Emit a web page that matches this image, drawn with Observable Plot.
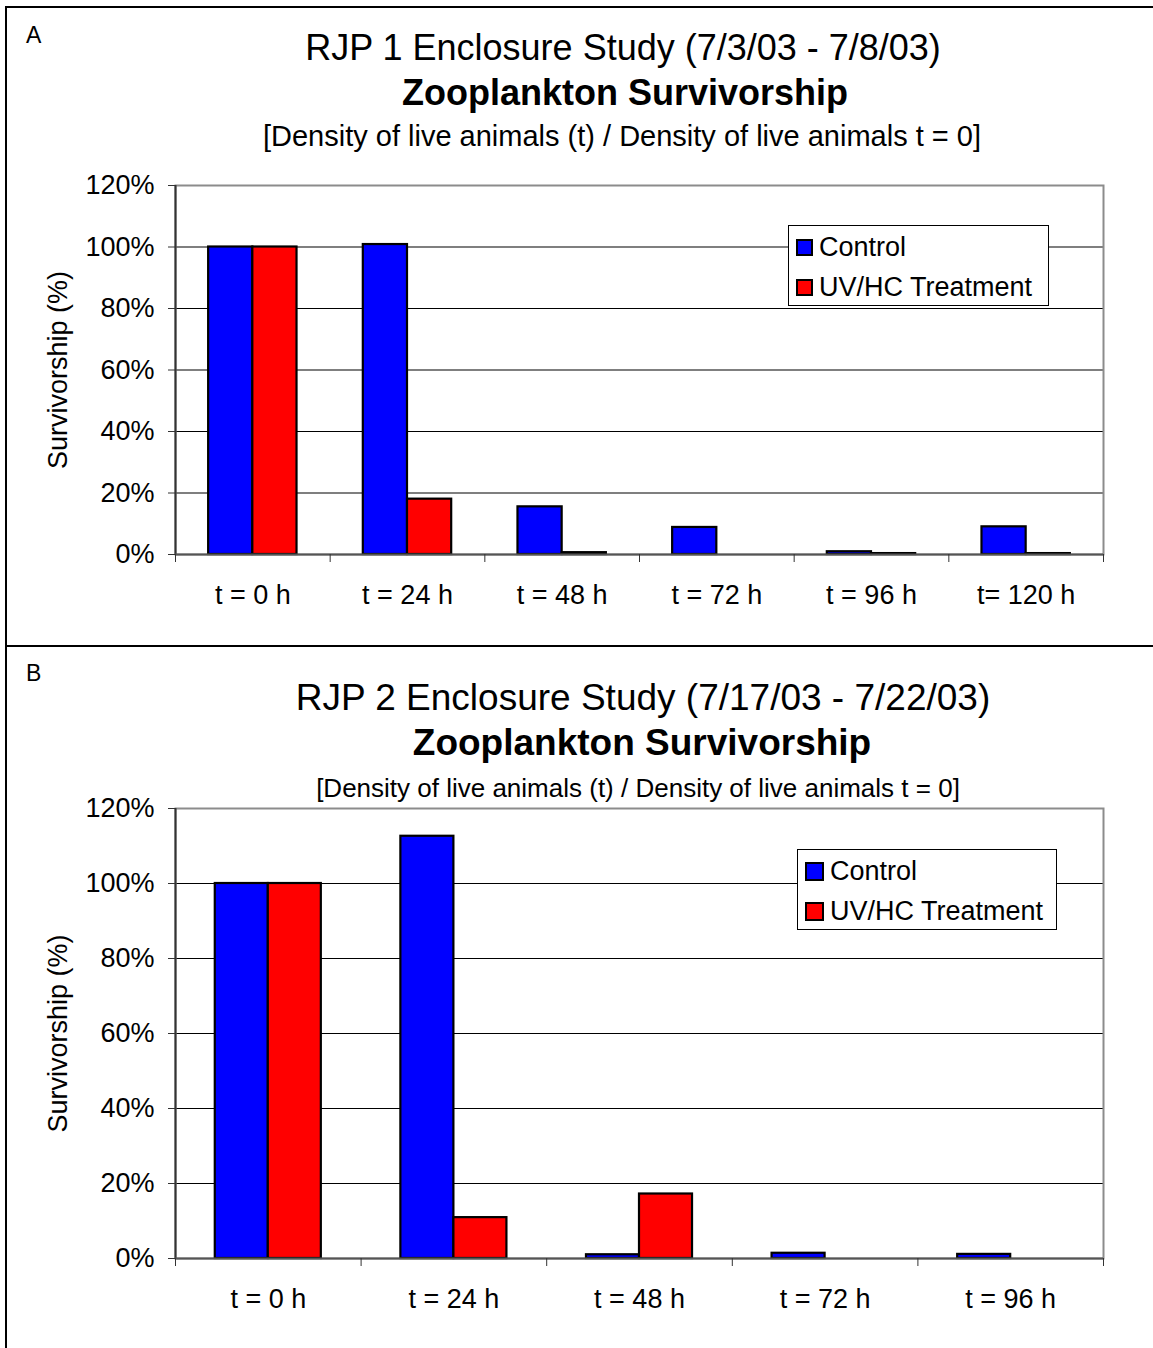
<!DOCTYPE html>
<html>
<head>
<meta charset="utf-8">
<script src="https://cdn.jsdelivr.net/npm/d3@7"></script>
<script src="https://cdn.jsdelivr.net/npm/@observablehq/plot@0.6"></script>
<style>
  body { margin: 0; background: #fff; font-family: "Liberation Sans", Arial, sans-serif; }
  #page { position: relative; width: 1153px; height: 1348px; overflow: hidden; background: #fff; }
  .border { position: absolute; left: 5px; top: 6px; width: 1300px; height: 1500px;
            border-left: 2px solid #000; border-top: 2px solid #000; }
  .sep { position: absolute; left: 5px; top: 645px; width: 1300px; height: 2px; background: #000; }
  .txt { position: absolute; line-height: 1; white-space: nowrap; color: #000; }
  .ttl { width: 1000px; text-align: center; }
  .legend { position: absolute; background: #fff; border: 1px solid #000; box-sizing: border-box; }
  .item { position: absolute; height: 28px; display: flex; align-items: center;
          font-size: 27px; line-height: 1; white-space: nowrap; }
  .sw { border: 2px solid #000; box-sizing: border-box; margin-right: 6px; }
  svg.chart { position: absolute; left: 0; }
</style>
</head>
<body>
<div id="page">
  <div class="border"></div>
  <div class="sep"></div>
</div>
<script>
// ---- data -------------------------------------------------------------
const seriesNames = ["Control", "UV/HC Treatment"];
const seriesColors = ["#0000ff", "#ff0000"];
const yTicks = [0, 20, 40, 60, 80, 100, 120];
const yTitle = "Survivorship (%)";

// RJP 1 enclosure (7/3/03 - 7/8/03), survivorship in %
const rjp1Times = ["t = 0 h", "t = 24 h", "t = 48 h", "t = 72 h", "t = 96 h", "t= 120 h"];
const rjp1Control = [100, 100.8, 15.5, 8.8, 0.9, 9.0];
const rjp1Treatment = [100, 18.0, 0.6, 0, 0.3, 0.3];

// RJP 2 enclosure (7/17/03 - 7/22/03), survivorship in %
const rjp2Times = ["t = 0 h", "t = 24 h", "t = 48 h", "t = 72 h", "t = 96 h"];
const rjp2Control = [100, 112.6, 1.0, 1.4, 1.1];
const rjp2Treatment = [100, 10.9, 17.2, 0, 0];

// ---- layout -----------------------------------------------------------
const FONT = '"Liberation Sans", Arial, sans-serif';
const gapWidth = 1.5;                 // gap between clusters, as a multiple of a bar width
const barFrac = 1 / (2 + gapWidth);   // one bar's share of a category

const panels = [
  {
    letter: "A", letterBaseline: 43,
    title: "RJP 1 Enclosure Study (7/3/03 - 7/8/03)", titleSize: 36, titleBaseline: 60, titleCenter: 623,
    heading: "Zooplankton Survivorship", headingSize: 36, headingBaseline: 105, headingCenter: 625,
    sub: "[Density of live animals (t) / Density of live animals t = 0]", subSize: 29, subBaseline: 147, subCenter: 622,
    times: rjp1Times, control: rjp1Control, treatment: rjp1Treatment,
    svgTop: 160, svgHeight: 480, marginTop: 25, marginBottom: 86,
    legend: {left: 788, top: 225, width: 261, height: 81, sw: 17, swLeft: 7}
  },
  {
    letter: "B", letterBaseline: 681,
    title: "RJP 2 Enclosure Study (7/17/03 - 7/22/03)", titleSize: 37, titleBaseline: 710, titleCenter: 643,
    heading: "Zooplankton Survivorship", headingSize: 37, headingBaseline: 755, headingCenter: 642,
    sub: "[Density of live animals (t) / Density of live animals t = 0]", subSize: 26, subBaseline: 797, subCenter: 638,
    times: rjp2Times, control: rjp2Control, treatment: rjp2Treatment,
    svgTop: 790, svgHeight: 558, marginTop: 18, marginBottom: 90,
    legend: {left: 797, top: 849, width: 260, height: 81, sw: 19, swLeft: 7}
  }
];

const page = document.getElementById("page");

function addText(str, {size, baseline, left, center, bold}) {
  const el = document.createElement("div");
  el.className = "txt" + (center !== undefined ? " ttl" : "");
  el.textContent = str;
  el.style.fontSize = size + "px";
  el.style.top = (baseline - 0.8465 * size) + "px";
  el.style.left = (center !== undefined ? center - 500 : left) + "px";
  if (bold) el.style.fontWeight = "bold";
  page.appendChild(el);
}

function addLegend(cfg) {
  const box = document.createElement("div");
  box.className = "legend";
  Object.assign(box.style, {left: cfg.left + "px", top: cfg.top + "px",
    width: cfg.width + "px", height: cfg.height + "px"});
  seriesNames.forEach((name, k) => {
    const item = document.createElement("div");
    item.className = "item";
    item.style.left = cfg.swLeft + "px";
    item.style.top = (21 + 40 * k - 14) + "px";
    const sw = document.createElement("div");
    sw.className = "sw";
    Object.assign(sw.style, {width: cfg.sw + "px", height: cfg.sw + "px", background: seriesColors[k]});
    const label = document.createElement("span");
    label.textContent = name;
    item.appendChild(sw);
    item.appendChild(label);
    box.appendChild(item);
  });
  page.appendChild(box);
}

function drawPanel(p) {
  addText(p.letter, {size: 23, baseline: p.letterBaseline, left: 26});
  addText(p.title, {size: p.titleSize, baseline: p.titleBaseline, center: p.titleCenter});
  addText(p.heading, {size: p.headingSize, baseline: p.headingBaseline, center: p.headingCenter, bold: true});
  addText(p.sub, {size: p.subSize, baseline: p.subBaseline, center: p.subCenter});

  const n = p.times.length;
  const rows = [];
  p.times.forEach((t, i) => {
    [p.control[i], p.treatment[i]].forEach((v, s) => {
      const x1 = i + (gapWidth * barFrac) / 2 + s * barFrac;
      rows.push({time: t, series: seriesNames[s], value: v, x1, x2: x1 + barFrac});
    });
  });

  const chart = Plot.plot({
    width: 1153,
    height: p.svgHeight,
    marginLeft: 175,
    marginRight: 50,
    marginTop: p.marginTop,
    marginBottom: p.marginBottom,
    style: {fontFamily: FONT, fontSize: "27px", background: "transparent", color: "#000", overflow: "visible"},
    x: {type: "linear", domain: [0, n], axis: null},
    y: {type: "linear", domain: [0, 120], axis: null},
    color: {domain: seriesNames, range: seriesColors},
    marks: [
      Plot.gridY({ticks: yTicks.slice(1, -1), stroke: "#000", strokeOpacity: 1, strokeWidth: 1.2}),
      Plot.frame({stroke: "#8c8c8c", strokeWidth: 2}),
      Plot.rectY(rows, {
        filter: d => d.value > 0,
        x1: "x1", x2: "x2", y1: 0, y2: "value",
        fill: "series", stroke: "#000", strokeWidth: 2.2
      }),
      Plot.ruleX([0], {stroke: "#333", strokeWidth: 2}),
      Plot.ruleY([0], {stroke: "#555", strokeWidth: 2}),
      Plot.axisY({ticks: yTicks, tickSize: 7, tickPadding: 14, tickFormat: d => d + "%",
        fontSize: 27, label: null, stroke: "#333"}),
      Plot.axisX({ticks: d3.range(n + 1), tickSize: 8, tickFormat: () => "", label: null, stroke: "#333"}),
      Plot.axisX({ticks: d3.range(n).map(i => i + 0.5), tickSize: 0, tickPadding: 30,
        tickFormat: v => p.times[Math.floor(v)], fontSize: 27, label: null}),
      Plot.text([yTitle], {text: d => d, frameAnchor: "left", textAnchor: "middle", rotate: -90,
        dx: -117, fontSize: 27, fill: "#000"})
    ]
  });
  chart.classList.add("chart");
  chart.style.top = p.svgTop + "px";
  page.appendChild(chart);

  addLegend(p.legend);
}

panels.forEach(drawPanel);
</script>
</body>
</html>
